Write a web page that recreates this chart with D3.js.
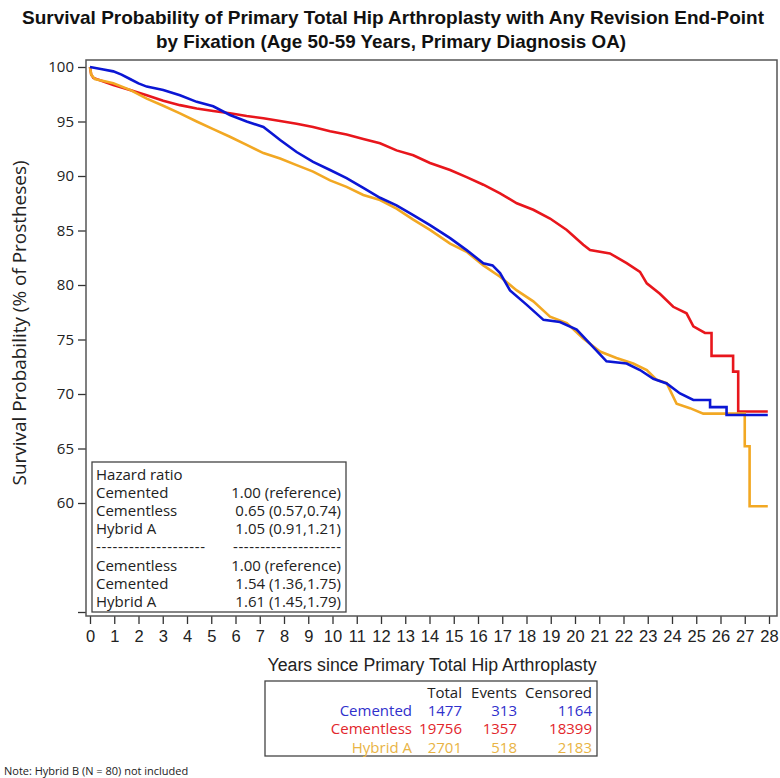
<!DOCTYPE html>
<html><head><meta charset="utf-8">
<script src="https://cdn.jsdelivr.net/npm/d3@7"></script>
<style>body{margin:0;background:#fff}svg{display:block}</style>
</head><body><svg id="c" width="780" height="778"></svg>
<script>
// ---------- data ----------
const seriesNames = ["Cemented", "Cementless", "Hybrid A"];
const seriesColors = ["#0b16d4", "#e8161c", "#f2a823"];
const tableColors = ["#3030cc", "#e2262c", "#e9b445"];

// Kaplan-Meier curves: [years, survival %]
const cemented = [[0,100],[0.5,99.8],[0.96,99.6],[1.3,99.3],[1.65,98.9],[2.0,98.5],[2.34,98.2],[3.02,97.9],[3.71,97.4],[4.4,96.8],[5.08,96.4],[5.77,95.6],[6.46,95.0],[7.15,94.5],[7.5,93.9],[7.84,93.3],[8.52,92.2],[9.2,91.3],[9.9,90.55],[10.58,89.8],[11.27,88.9],[11.96,88.0],[12.64,87.3],[13.33,86.4],[14.02,85.5],[14.5,84.8],[14.85,84.3],[15.53,83.2],[16.22,82.0],[16.6,81.8],[16.91,81.1],[17.32,79.5],[18.0,78.2],[18.7,76.8],[19.38,76.6],[20.07,75.9],[20.75,74.3],[21.3,73.0],[22.13,72.8],[22.68,72.2],[23.23,71.4],[23.78,70.97],[24.33,70.05],[24.88,69.45],[25.57,69.45],[25.57,68.8],[26.25,68.8],[26.25,68.07],[27.95,68.07]];
const cementless = [[0,100],[0.05,99.3],[0.14,99.0],[0.96,98.35],[1.65,97.9],[2.34,97.4],[3.02,96.9],[3.71,96.5],[4.4,96.2],[5.08,95.96],[5.77,95.75],[6.46,95.5],[7.15,95.3],[7.84,95.05],[8.52,94.8],[9.2,94.5],[9.9,94.1],[10.58,93.8],[11.27,93.4],[11.96,93.0],[12.64,92.35],[13.33,91.9],[14.02,91.2],[14.85,90.55],[15.53,89.9],[16.22,89.2],[16.91,88.4],[17.6,87.5],[18.28,86.9],[18.97,86.1],[19.66,85.05],[20.34,83.7],[20.62,83.2],[21.44,82.9],[22.13,82.0],[22.68,81.2],[22.96,80.15],[23.5,79.2],[24.05,78.0],[24.6,77.4],[24.88,76.2],[25.36,75.6],[25.63,75.6],[25.63,73.5],[26.52,73.5],[26.52,72.05],[26.73,72.05],[26.73,68.4],[27.95,68.4]];
const hybridA = [[0,100],[0.05,99.3],[0.2,98.9],[0.96,98.5],[1.65,97.9],[2.34,97.1],[3.02,96.45],[3.71,95.75],[4.4,95.0],[5.08,94.3],[5.77,93.6],[6.46,92.85],[7.15,92.1],[7.84,91.6],[8.52,91.0],[9.2,90.4],[9.9,89.6],[10.58,89.0],[11.27,88.26],[11.96,87.8],[12.64,87.0],[13.33,86.0],[14.02,85.05],[14.85,83.8],[15.53,83.05],[16.22,81.8],[16.91,80.76],[17.6,79.5],[18.28,78.5],[18.97,77.1],[19.66,76.5],[20.34,75.1],[21.03,73.9],[21.71,73.3],[22.4,72.8],[22.96,72.2],[23.37,71.3],[23.78,71.0],[24.19,69.1],[24.74,68.7],[25.29,68.2],[27.0,68.2],[27.0,65.2],[27.2,65.2],[27.2,59.7],[27.95,59.7]];

const xTicks = d3.range(0, 29);
const yTicks = [60, 65, 70, 75, 80, 85, 90, 95, 100];
const yBottomTick = 50;

const hazardRows = [
  ["Hazard ratio", ""],
  ["Cemented", "1.00 (reference)"],
  ["Cementless", "0.65 (0.57,0.74)"],
  ["Hybrid A", "1.05 (0.91,1.21)"],
  ["--------------------", "--------------------"],
  ["Cementless", "1.00 (reference)"],
  ["Cemented", "1.54 (1.36,1.75)"],
  ["Hybrid A", "1.61 (1.45,1.79)"]
];
const tableHeader = ["Total", "Events", "Censored"];
const tableTotal = [1477, 19756, 2701];
const tableEvents = [313, 1357, 518];
const tableCensored = [1164, 18399, 2183];

// ---------- drawing ----------
const svg = d3.select("#c");
const frame = {l: 86, t: 60, r: 777, b: 616};
const x = d3.scaleLinear().domain([0, 28]).range([90, 769]);
const y = d3.scaleLinear().domain([50, 100]).range([612, 67]);
const sans = "'Open Sans', 'Noto Sans', sans-serif";
const narrow = "'Liberation Sans Narrow', 'Arial Narrow', 'Liberation Sans', sans-serif";

// title
const title = svg.append("g").attr("font-family", narrow).attr("font-weight", "bold").attr("font-size", 19).attr("text-anchor", "middle").attr("fill", "#111");
title.append("text").attr("x", 393).attr("y", 24).attr("textLength", 742).attr("lengthAdjust", "spacingAndGlyphs")
  .text("Survival Probability of Primary Total Hip Arthroplasty with Any Revision End-Point");
title.append("text").attr("x", 391).attr("y", 48).attr("textLength", 470).attr("lengthAdjust", "spacingAndGlyphs")
  .text("by Fixation (Age 50-59 Years, Primary Diagnosis OA)");

// axes
const yAxis = d3.axisLeft(y).tickValues(yTicks.concat([yBottomTick])).tickSize(8).tickPadding(4)
  .tickFormat(d => d === yBottomTick ? "" : d3.format("d")(d));
const gy = svg.append("g").attr("transform", `translate(${frame.l},0)`).call(yAxis);
gy.select(".domain").remove();
gy.selectAll("line").attr("stroke", "#333").attr("stroke-width", 1.3);
gy.selectAll("text").attr("font-family", sans).attr("font-size", 15).attr("fill", "#222");

const xAxis = d3.axisBottom(x).tickValues(xTicks).tickSize(8).tickPadding(6).tickFormat(d3.format("d"));
const gx = svg.append("g").attr("transform", `translate(0,${frame.b})`).call(xAxis);
gx.select(".domain").remove();
gx.selectAll("line").attr("stroke", "#333").attr("stroke-width", 1.3);
gx.selectAll("text").attr("font-family", narrow).attr("font-size", 16.5).attr("fill", "#222");

// frame
svg.append("rect").attr("x", frame.l).attr("y", frame.t).attr("width", frame.r - frame.l).attr("height", frame.b - frame.t)
  .attr("fill", "none").attr("stroke", "#555").attr("stroke-width", 1.5);

// axis labels
svg.append("text").attr("transform", "translate(26,323) rotate(-90)").attr("text-anchor", "middle")
  .attr("textLength", 325).attr("lengthAdjust", "spacingAndGlyphs")
  .attr("font-family", sans).attr("font-size", 18).attr("fill", "#222").text("Survival Probability (% of Prostheses)");
svg.append("text").attr("x", 432).attr("y", 671).attr("text-anchor", "middle").attr("textLength", 329).attr("lengthAdjust", "spacingAndGlyphs")
  .attr("font-family", narrow).attr("font-size", 18).attr("fill", "#222").text("Years since Primary Total Hip Arthroplasty");

// curves
const line = d3.line().x(d => x(d[0])).y(d => y(d[1]));
const curves = [cementless, hybridA, cemented];
const curveColors = [seriesColors[1], seriesColors[2], seriesColors[0]];
curves.forEach((c, i) => {
  svg.append("path").datum(c).attr("d", line).attr("fill", "none")
    .attr("stroke", curveColors[i]).attr("stroke-width", 2.6).attr("stroke-linejoin", "miter");
});

// hazard ratio box
const hb = svg.append("g").attr("font-family", sans).attr("font-size", 15).attr("fill", "#222");
hb.append("rect").attr("x", 92).attr("y", 462).attr("width", 254).attr("height", 150)
  .attr("fill", "#fff").attr("stroke", "#444").attr("stroke-width", 1.3);
hazardRows.forEach((r, i) => {
  const yy = 479.5 + i * 18.2;
  const isRule = r[0].startsWith("---");
  const a = hb.append("text").attr("x", 96).attr("y", yy).text(r[0]);
  const b = hb.append("text").attr("x", 341).attr("y", yy).attr("text-anchor", "end").text(r[1]);
  if (isRule) {
    a.attr("textLength", 109).attr("lengthAdjust", "spacing");
    b.attr("textLength", 108).attr("lengthAdjust", "spacing");
  }
});

// counts table
const tb = svg.append("g").attr("font-family", sans).attr("font-size", 15);
tb.append("rect").attr("x", 265).attr("y", 681).attr("width", 332).attr("height", 75)
  .attr("fill", "#fff").attr("stroke", "#444").attr("stroke-width", 1.3);
const colX = [462, 517, 592];
tableHeader.forEach((h, j) => tb.append("text").attr("x", colX[j]).attr("y", 697.5).attr("text-anchor", "end").attr("fill", "#222").text(h));
seriesNames.forEach((n, i) => {
  const yy = 716 + i * 18.3;
  const g = tb.append("g").attr("fill", tableColors[i]).attr("text-anchor", "end");
  g.append("text").attr("x", 412).attr("y", yy).text(n);
  g.append("text").attr("x", colX[0]).attr("y", yy).text(tableTotal[i]);
  g.append("text").attr("x", colX[1]).attr("y", yy).text(tableEvents[i]);
  g.append("text").attr("x", colX[2]).attr("y", yy).text(tableCensored[i]);
});

// footnote
svg.append("text").attr("x", 4).attr("y", 775).attr("font-family", sans).attr("font-size", 11).attr("fill", "#222")
  .text("Note: Hybrid B (N = 80) not included");
</script></body></html>
